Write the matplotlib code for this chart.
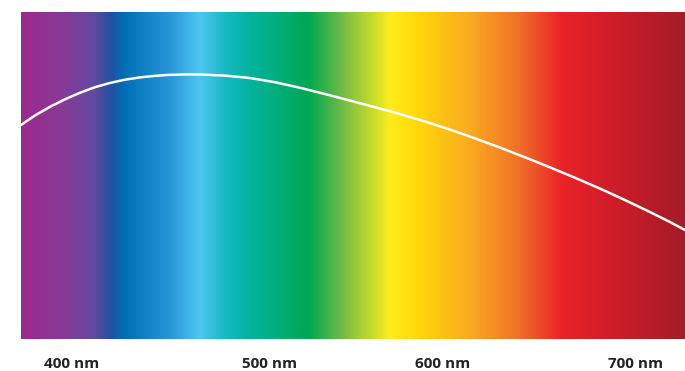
import numpy as np
import matplotlib
matplotlib.use('Agg')
import matplotlib.pyplot as plt
from matplotlib.colors import LinearSegmentedColormap

# spectrum colour stops (wavelength in nm, rgb 0-255)
stop_nm = [373, 394, 412, 421, 428, 452, 468, 481, 492, 526, 543, 561, 569, 585, 612, 638, 660, 681, 726]
stop_rgb = [(158, 40, 142), (135, 58, 150), (95, 75, 160), (30, 82, 162), (0, 112, 182),
            (40, 150, 215), (78, 198, 242), (25, 185, 195), (5, 180, 165), (0, 168, 80),
            (110, 186, 70), (205, 222, 40), (255, 236, 25), (255, 214, 10), (250, 170, 32),
            (240, 112, 40), (234, 36, 40), (214, 30, 40), (162, 28, 40)]

# relative intensity curve (white line)
curve_nm = [372.9, 380.3, 388.3, 396.3, 404.3, 412.2, 420.2, 428.2, 436.2, 444.1, 452.1,
            460.1, 468.1, 481.4, 494.7, 508.0, 521.3, 534.6, 547.9, 561.2, 574.5, 587.8,
            601.1, 614.4, 627.7, 641.0, 654.3, 667.6, 680.9, 694.1, 707.4, 718.1, 726.1]
curve_val = [0.6544, 0.6835, 0.7100, 0.7330, 0.7530, 0.7700, 0.7830, 0.7930, 0.8000, 0.8047,
             0.8078, 0.8090, 0.8089, 0.8055, 0.7982, 0.7853, 0.7682, 0.7492, 0.7291, 0.7089,
             0.6881, 0.6651, 0.6404, 0.6135, 0.5853, 0.5557, 0.5248, 0.4930, 0.4599, 0.4251,
             0.3884, 0.3578, 0.3333]

tick_nm = [400, 505, 597, 700]
tick_labels = ['400 nm', '500 nm', '600 nm', '700 nm']

W, H = 685, 371
fig = plt.figure(figsize=(W / 100, H / 100), dpi=100)
fig.patch.set_facecolor('white')
ax = fig.add_axes([21 / W, (H - 339) / H, (685 - 21) / W, (339 - 12) / H])

x0, x1 = 372.9, 726.1
pos = [(n - stop_nm[0]) / (stop_nm[-1] - stop_nm[0]) for n in stop_nm]
cmap = LinearSegmentedColormap.from_list(
    'spec', list(zip(pos, [tuple(c / 255 for c in rgb) for rgb in stop_rgb])), N=1024)
grad = np.linspace(0, 1, 1024)[None, :]
ax.imshow(grad, cmap=cmap, aspect='auto', extent=[stop_nm[0], stop_nm[-1], 0, 1],
          interpolation='bilinear')

ax.plot(curve_nm, curve_val, color='white', lw=1.8, solid_capstyle='round',
        solid_joinstyle='round')

ax.set_xlim(x0, x1)
ax.set_ylim(0, 1)
ax.set_yticks([])
ax.set_xticks(tick_nm)
ax.set_xticklabels(tick_labels, fontsize=11, fontweight='bold', color='#222222',
                   family=['Open Sans', 'DejaVu Sans'])
ax.tick_params(axis='x', length=0, pad=13)
for s in ax.spines.values():
    s.set_visible(False)

plt.savefig('out.png', dpi=100, facecolor='white')
plt.close(fig)
